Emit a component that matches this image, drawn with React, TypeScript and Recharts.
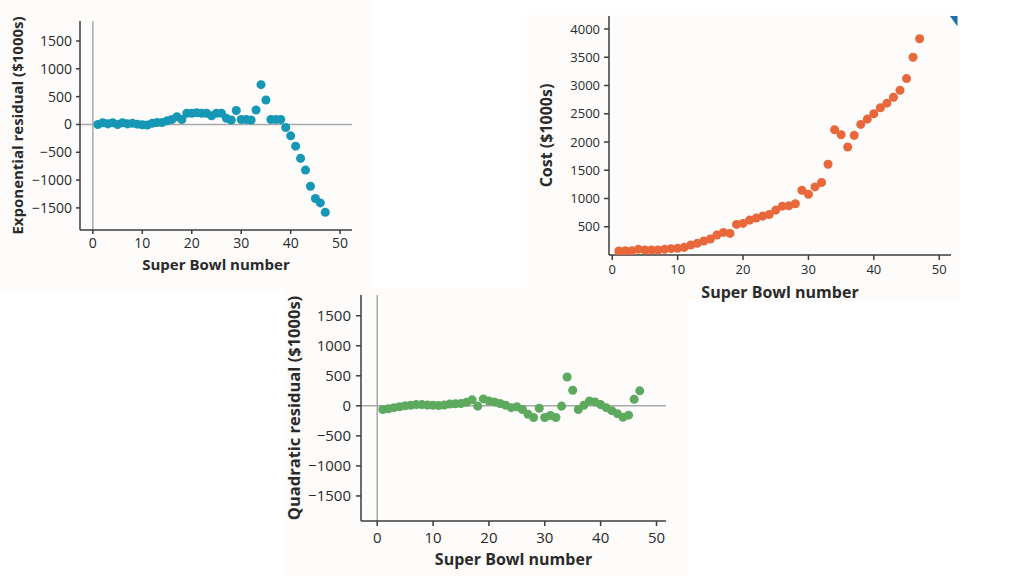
import { ScatterChart, Scatter, XAxis, YAxis, ZAxis, ReferenceLine, Label } from "recharts";

// Super Bowl number (1..47)
const games = [
  1, 2, 3, 4, 5, 6, 7, 8, 9, 10, 11, 12, 13, 14, 15, 16, 17, 18, 19, 20, 21, 22, 23, 24,
  25, 26, 27, 28, 29, 30, 31, 32, 33, 34, 35, 36, 37, 38, 39, 40, 41, 42, 43, 44, 45, 46, 47,
];

// cost of a 30s ad, $1000s
const cost = [
  70, 76, 76, 100, 88, 88, 88, 100, 112, 118, 135, 176, 206, 247, 282, 353, 400, 382, 541,
  559, 617, 653, 688, 717, 794, 864, 870, 906, 1147, 1076, 1205, 1282, 1605, 2217, 2129,
  1911, 2117, 2311, 2405, 2499, 2605, 2687, 2793, 2916, 3122, 3499, 3828,
];

const expResidual = [
  0, 30, 10, 30, 0, 30, 10, 20, 5, -5, -10, 20, 35, 35, 65, 90, 140, 90, 200, 200, 210, 200,
  200, 155, 200, 200, 110, 80, 250, 90, 90, 80, 260, 715, 440, 90, 90, 90, -55, -205, -390,
  -610, -820, -1110, -1330, -1410, -1580,
];

const quadResidual = [
  -60, -50, -30, -15, 0, 10, 20, 20, 15, 10, 5, 15, 30, 35, 40, 60, 100, -5, 115, 80, 65, 40,
  10, -30, -15, -60, -140, -195, -40, -195, -160, -195, -5, 480, 260, -60, 10, 80, 65, 20,
  -30, -80, -130, -190, -155, 110, 250,
];

const xTicks = [0, 10, 20, 30, 40, 50];
const residualTicks = [-1500, -1000, -500, 0, 500, 1000, 1500];
const costTicks = [500, 1000, 1500, 2000, 2500, 3000, 3500, 4000];

const toPoints = (vals: number[]) => games.map((g, i) => ({ x: g, y: vals[i] }));

const FONT = "'Open Sans', 'Noto Sans', sans-serif";
const AXIS = "#3c3c3c";
const TEXT = "#2a2a2a";
const ZERO = "#a8a8a8";
const PANEL = "#fdfcfb";

const fmt = (v: number) => (v < 0 ? `\u2212${Math.abs(v)}` : `${v}`);

export default function App() {
  return (
    <div style={{ position: "absolute", left: 0, top: 0, width: 1024, height: 576, background: "#fff", fontFamily: FONT }}>
      {/* exponential residuals */}
      <div style={{ position: "absolute", left: 0, top: 0, width: 372, height: 290, background: PANEL }}>
        <ScatterChart width={370} height={290} margin={{ top: 21, right: 18, left: 0, bottom: 0 }}>
          <XAxis
            type="number"
            dataKey="x"
            domain={[-2.6, 52.4]}
            allowDataOverflow
            ticks={xTicks}
            height={60}
            tickSize={4}
            tickMargin={4}
            stroke={AXIS}
            strokeWidth={1.5}
            tick={{ fontSize: 14, fill: TEXT, fontFamily: FONT }}
          >
            <Label value="Super Bowl number" position="insideBottom" offset={20}
              style={{ fontSize: 15, fontWeight: 700, fill: TEXT, fontFamily: FONT }} />
          </XAxis>
          <YAxis
            type="number"
            dataKey="y"
            domain={[-1897, 1859]}
            allowDataOverflow
            ticks={residualTicks}
            width={80}
            tickSize={4}
            tickMargin={4}
            tickFormatter={fmt}
            stroke={AXIS}
            strokeWidth={1.5}
            tick={{ fontSize: 14, fill: TEXT, fontFamily: FONT }}
          >
            <Label value="Exponential residual ($1000s)" position="insideLeft" angle={-90} offset={17.5}
              style={{ fontSize: 15, fontWeight: 700, fill: TEXT, fontFamily: FONT, textAnchor: "middle" }} />
          </YAxis>
          <ZAxis range={[52, 52]} />
          <ReferenceLine x={0} stroke={ZERO} strokeWidth={1.5} />
          <ReferenceLine y={0} stroke={ZERO} strokeWidth={1.5} />
          <Scatter data={toPoints(expResidual)} fill="#1597b5" isAnimationActive={false} />
        </ScatterChart>
      </div>

      {/* cost */}
      <div style={{ position: "absolute", left: 527, top: 15, width: 433, height: 287, background: PANEL }} />
      <div style={{ position: "absolute", left: 527, top: 0, width: 433, height: 302 }}>
        <ScatterChart width={433} height={302} margin={{ top: 16, right: 9, left: 0, bottom: 0 }}>
          <XAxis
            type="number"
            dataKey="x"
            domain={[-0.5, 51.8]}
            allowDataOverflow
            ticks={xTicks}
            height={47}
            tickSize={5}
            tickMargin={5}
            stroke={AXIS}
            strokeWidth={1.5}
            tick={{ fontSize: 13, fill: TEXT, fontFamily: FONT }}
          >
            <Label value="Super Bowl number" position="insideBottom" offset={4}
              style={{ fontSize: 16, fontWeight: 700, fill: TEXT, fontFamily: FONT }} />
          </XAxis>
          <YAxis
            type="number"
            dataKey="y"
            domain={[0, 4230]}
            allowDataOverflow
            ticks={costTicks}
            width={82}
            tickSize={5}
            tickMargin={4}
            stroke={AXIS}
            strokeWidth={1.5}
            tick={{ fontSize: 13, fill: TEXT, fontFamily: FONT }}
          >
            <Label value="Cost ($1000s)" position="insideLeft" angle={-90} offset={19}
              style={{ fontSize: 16, fontWeight: 700, fill: TEXT, fontFamily: FONT, textAnchor: "middle" }} />
          </YAxis>
          <ZAxis range={[52, 52]} />
          <Scatter data={toPoints(cost)} fill="#e8683b" isAnimationActive={false} />
        </ScatterChart>
      </div>
      <svg style={{ position: "absolute", left: 948, top: 14 }} width={12} height={14}>
        <polygon points="2,2 9.5,2 9.5,12.5" fill="#1a6fa8" />
      </svg>

      {/* quadratic residuals */}
      <div style={{ position: "absolute", left: 285, top: 288, width: 403, height: 288, background: PANEL }} />
      <div style={{ position: "absolute", left: 270, top: 286, width: 420, height: 290 }}>
        <ScatterChart width={420} height={290} margin={{ top: 9, right: 24, left: 0, bottom: 0 }}>
          <XAxis
            type="number"
            dataKey="x"
            domain={[-2.9, 51.7]}
            allowDataOverflow
            ticks={xTicks}
            height={55}
            tickSize={5}
            tickMargin={6}
            stroke={AXIS}
            strokeWidth={1.5}
            tick={{ fontSize: 15, fill: TEXT, fontFamily: FONT }}
          >
            <Label value="Super Bowl number" position="insideBottom" offset={11.5}
              style={{ fontSize: 16, fontWeight: 700, fill: TEXT, fontFamily: FONT }} />
          </XAxis>
          <YAxis
            type="number"
            dataKey="y"
            domain={[-1917, 1845]}
            allowDataOverflow
            ticks={residualTicks}
            width={91}
            tickSize={5}
            tickMargin={5}
            tickFormatter={fmt}
            stroke={AXIS}
            strokeWidth={1.5}
            tick={{ fontSize: 15, fill: TEXT, fontFamily: FONT }}
          >
            <Label value="Quadratic residual ($1000s)" position="insideLeft" angle={-90} offset={24}
              style={{ fontSize: 16.5, fontWeight: 700, fill: TEXT, fontFamily: FONT, textAnchor: "middle" }} />
          </YAxis>
          <ZAxis range={[60, 60]} />
          <ReferenceLine x={0} stroke={ZERO} strokeWidth={1.5} />
          <ReferenceLine y={0} stroke={ZERO} strokeWidth={1.5} />
          <Scatter data={toPoints(quadResidual)} fill="#5daa5f" isAnimationActive={false} />
        </ScatterChart>
      </div>
    </div>
  );
}
